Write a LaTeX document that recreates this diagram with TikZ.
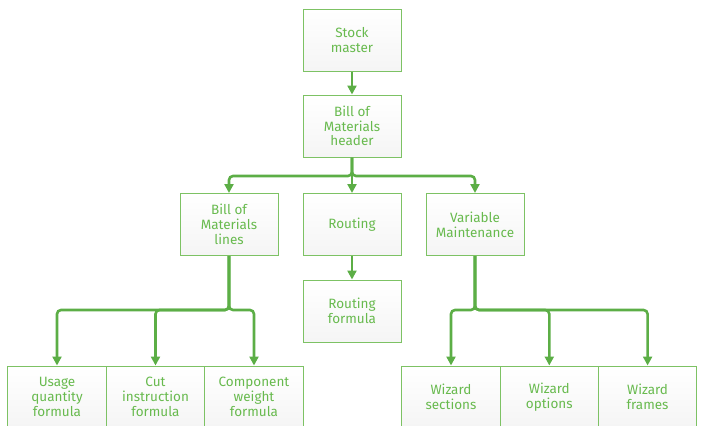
\documentclass[tikz,border=0pt]{standalone}
\usepackage{fontspec}
\setmainfont{Fira Sans}
\usetikzlibrary{arrows.meta}

\definecolor{linkgreen}{RGB}{92,174,70}
\definecolor{textgreen}{RGB}{104,186,78}
\definecolor{boxgreen}{RGB}{125,194,100}

\begin{document}
\begin{tikzpicture}[x=1pt,y=-1pt,
    box/.style={draw=boxgreen, line width=1pt, top color=white, bottom color=black!4,
      minimum width=98pt, minimum height=62pt, inner sep=2pt, align=center,
      text=textgreen, font=\fontsize{13.5}{14.8}\selectfont},
    link/.style={draw=linkgreen, line width=2.6pt, rounded corners=4pt,
      -{Triangle[width=9pt,length=9pt]}}]
    \useasboundingbox (0,0) rectangle (702,426);

    % Top boxes
    \node[box] (stock) at (352,40) {Stock\\master};
    \node[box] (header) at (352,126) {Bill of\\Materials\\header};

    % Middle row
    \node[box] (lines) at (229,224.5) {Bill of\\Materials\\lines};
    \node[box] (routing) at (352,224.5) {Routing};
    \node[box] (variable) at (475,224.5) {Variable\\Maintenance};
    \node[box] (rformula) at (352,311) {Routing\\formula};

    % Bottom row, left
    \node[box, minimum width=98.5pt] (usage) at (57,397) {Usage\\quantity\\formula};
    \node[box, minimum width=98.5pt] (cut) at (155.5,397) {Cut\\instruction\\formula};
    \node[box, minimum width=98.5pt] (weight) at (254,397) {Component\\weight\\formula};

    % Bottom row, right
    \node[box, minimum width=98.5pt] (wsections) at (451,397) {Wizard\\sections};
    \node[box, minimum width=98.5pt] (woptions) at (549.3,397) {Wizard\\options};
    \node[box, minimum width=98.5pt] (wframes) at (647.6,397) {Wizard\\frames};

    % Branch points
    \coordinate (hsplit) at (352,176);
    \coordinate (lsplit) at (229,310);
    \coordinate (rsplit) at (475,310);

    % Connectors
    \draw[link] (stock) -- (header);
    \draw[link] (header.south) -- (hsplit) -| (lines.north);
    \draw[link] (header.south) -- (routing.north);
    \draw[link] (header.south) -- (hsplit) -| (variable.north);
    \draw[link] (routing) -- (rformula);

    \draw[link] (lines.south) -- (lsplit) -| (usage.north);
    \draw[link] (lines.south) -- (lsplit) -| (cut.north);
    \draw[link] (lines.south) -- (lsplit) -| (weight.north);

    \draw[link] (variable.south) -- (rsplit) -| (wsections.north);
    \draw[link] (variable.south) -- (rsplit) -| (woptions.north);
    \draw[link] (variable.south) -- (rsplit) -| (wframes.north);
\end{tikzpicture}
\end{document}
